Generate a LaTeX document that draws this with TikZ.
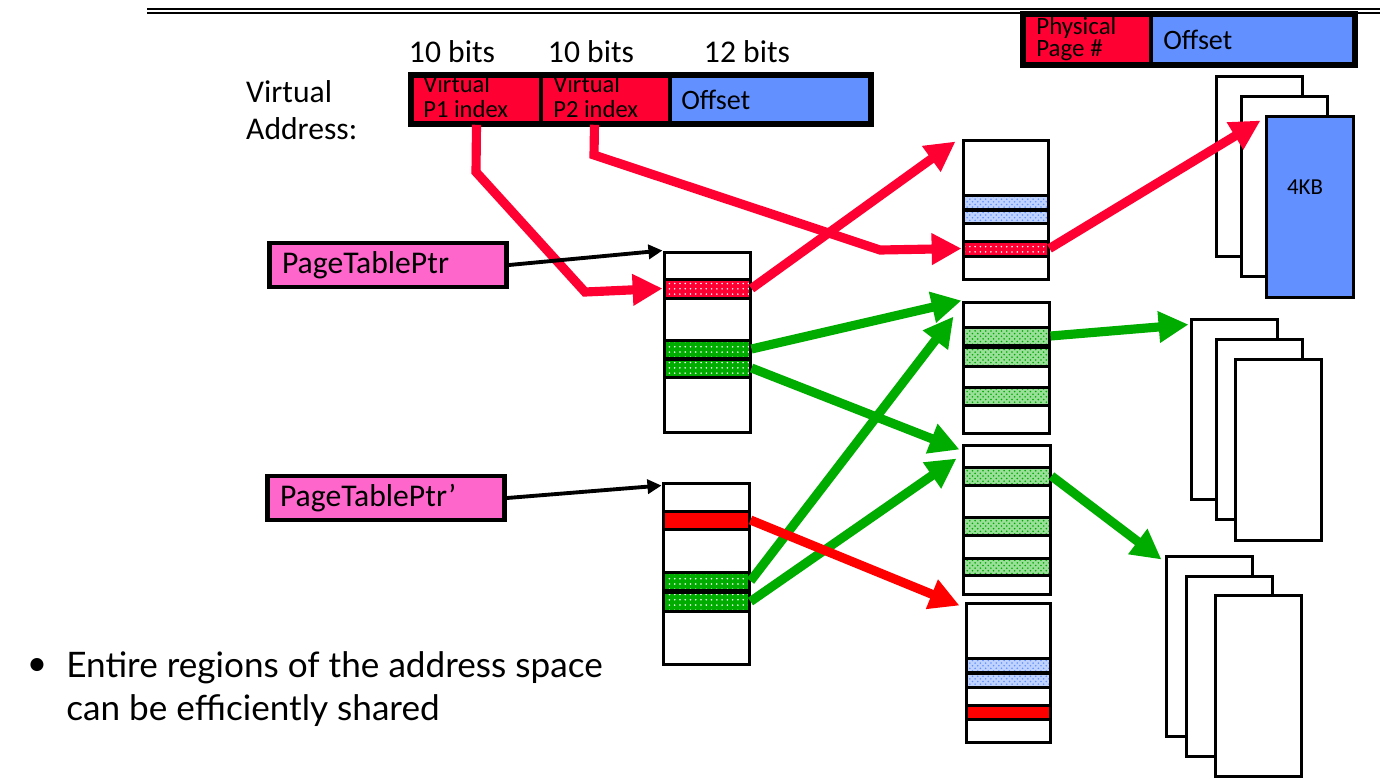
\documentclass[tikz,border=0pt]{standalone}
\usepackage{fontspec}
\setmainfont{Carlito}
\newfontfamily\gillfont{Lato}
\usetikzlibrary{arrows.meta,fit,calc,patterns}
\definecolor{vared}{RGB}{255,0,51}
\definecolor{purered}{RGB}{255,0,0}
\definecolor{vablue}{RGB}{98,145,255}
\definecolor{ptrpink}{RGB}{255,102,204}
\definecolor{ptgreen}{RGB}{0,172,0}

\begin{document}
\begin{tikzpicture}[x=0.02cm,y=-0.02cm,
  table node/.style={draw,line width=1.7pt,fill=white,inner sep=0pt},
  row node/.style={draw,line width=1.7pt,inner sep=0pt},
  page node/.style={draw,line width=1.7pt,fill=white,inner sep=0pt},
  cell node/.style={draw,line width=2pt,inner sep=0pt},
  ptr node/.style={draw,line width=2.8pt,fill=ptrpink,text width=4.24cm,inner xsep=0.25cm,
    minimum height=0.88cm,align=left,font=\fontsize{18}{20}\selectfont},
  dotred/.style={preaction={fill=vared},pattern=dots,pattern color=white},
  dotgreen/.style={preaction={fill=ptgreen},pattern=dots,pattern color=white},
  checkgreen/.style={preaction={fill=ptgreen!40},pattern=crosshatch dots,pattern color=ptgreen},
  checkblue/.style={preaction={fill=vablue!40},pattern=crosshatch dots,pattern color=vablue},
  solidred/.style={fill=purered},
  big arrow/.style={line width=5.2pt,-{Triangle[length=17pt,width=17pt]}},
  ptr arrow/.style={line width=2.2pt,-{Triangle[length=8pt,width=8pt]}},
  big font/.style={font=\fontsize{18}{21}\selectfont},
  cell font/.style={font=\fontsize{14}{14.2}\selectfont}]

  \useasboundingbox (0,0) rectangle (1389,779);

  % title rule
  \draw[line width=1.4pt] (147,9) -- (1380,9);
  \draw[line width=0.8pt] (147,13) -- (1380,13);

  % virtual address
  \node[big font] (bits1) at (452,52) {10 bits};
  \node[big font] (bits2) at (591,52) {10 bits};
  \node[big font] (bits3) at (747,52) {12 bits};
  \node[big font,anchor=west,align=left] (valbl) at (240,110) {Virtual\\Address:};

  \node[cell node,fill=vared,fit={(412,76) (541,123)}] (va1) {};
  \node[cell node,fill=vared,fit={(541,76) (670,123)}] (va2) {};
  \node[cell node,fill=vablue,fit={(670,76) (870,123)}] (va3) {};
  \node[cell font,anchor=west,align=left,inner sep=0pt] (va1txt) at (423,97) {Virtual\\P1 index};
  \node[cell font,anchor=west,align=left,inner sep=0pt] (va2txt) at (553,97) {Virtual\\P2 index};
  \node[font=\fontsize{16}{18}\selectfont,anchor=west,inner sep=0pt] (va3txt) at (681,100) {Offset};
  \draw[line width=2.6pt] (va1.north west) rectangle (va3.south east);

  % physical address
  \node[cell node,fill=vared,fit={(1024,15) (1151,64)}] (pa1) {};
  \node[cell node,fill=vablue,fit={(1151,15) (1354,64)}] (pa2) {};
  \node[font=\fontsize{14.2}{11.5}\selectfont,anchor=west,align=left,inner sep=0pt] (pa1txt) at (1036,39) {Physical\\Page \#};
  \node[font=\fontsize{16}{18}\selectfont,anchor=west,inner sep=0pt] (pa2txt) at (1163,40) {Offset};
  \draw[line width=2.6pt] (pa1.north west) rectangle (pa2.south east);

  % page table pointers
  \node[ptr node] (ptr1) at (388,265) {PageTablePtr};
  \node[ptr node] (ptr2) at (386,498) {PageTablePtr'};

  % first level tables
  \node[table node,fit={(664,252) (750,432)}] (t1) {};
  \node[row node,dotred,fit={(664,279) (750,298)}] (r1red) {};
  \node[row node,dotgreen,fit={(664,340) (750,358)}] (g1a) {};
  \node[row node,dotgreen,fit={(664,359) (750,377)}] (g1b) {};

  \node[table node,fit={(663,483) (749,664)}] (t2) {};
  \node[row node,solidred,fit={(663,511) (749,529)}] (r2red) {};
  \node[row node,dotgreen,fit={(663,572) (749,590)}] (g2a) {};
  \node[row node,dotgreen,fit={(663,592) (749,611)}] (g2b) {};

  % second level tables
  \node[table node,fit={(963,140) (1048,279)}] (tA) {};
  \node[row node,checkblue,fit={(963,195) (1048,209)}] (bA1) {};
  \node[row node,checkblue,fit={(963,210) (1048,223)}] (bA2) {};
  \node[row node,dotred,fit={(963,241) (1048,256)}] (rAred) {};

  \node[table node,fit={(963,302) (1049,433)}] (tB) {};
  \node[row node,checkgreen,fit={(963,327) (1049,345)}] (gB1) {};
  \node[row node,checkgreen,fit={(963,347) (1049,366)}] (gB2) {};
  \node[row node,checkgreen,fit={(963,387) (1049,405)}] (gB3) {};

  \node[table node,fit={(963,445) (1050,594)}] (tC) {};
  \node[row node,checkgreen,fit={(963,467) (1050,485)}] (gC1) {};
  \node[row node,checkgreen,fit={(963,517) (1050,535)}] (gC2) {};
  \node[row node,checkgreen,fit={(963,558) (1050,575)}] (gC3) {};

  \node[table node,fit={(966,603) (1050,742)}] (tD) {};
  \node[row node,checkblue,fit={(966,658) (1050,672)}] (bD1) {};
  \node[row node,checkblue,fit={(966,673) (1050,687)}] (bD2) {};
  \node[row node,solidred,fit={(966,705) (1050,719)}] (rDred) {};

  % pages
  \node[page node,fit={(1216,76) (1302,256)}] (pg11) {};
  \node[page node,fit={(1241,96) (1327,276)}] (pg12) {};
  \node[page node,fill=vablue,fit={(1266,116) (1353,297)}] (pg13) {};
  \node[font=\fontsize{13}{15}\selectfont] (kb) at (1305,187) {4KB};

  \node[page node,fit={(1191,319) (1277,499)}] (pg21) {};
  \node[page node,fit={(1216,339) (1302,519)}] (pg22) {};
  \node[page node,fit={(1235,359) (1321,540)}] (pg23) {};

  \node[page node,fit={(1166,556) (1252,736)}] (pg31) {};
  \node[page node,fit={(1186,576) (1272,756)}] (pg32) {};
  \node[page node,fit={(1215,595) (1301,776)}] (pg33) {};

  % bullet
  \node[font=\gillfont\fontsize{20}{24}\selectfont] (bul) at (37,667) {\textbullet};
  \node[font=\gillfont\fontsize{20}{24.4}\selectfont,anchor=west,align=left,inner sep=0pt] (txt) at (66,689)
    {Entire regions of the address space\\can be efficiently shared};

  % green arrows
  \draw[big arrow,ptgreen] (g1a.east) -- (tB.north west);
  \draw[big arrow,ptgreen] (g1b.east) -- ($(tC.north west)+(-2,6)$);
  \draw[big arrow,ptgreen] (g2a.east) -- ($(tB.north west)+(-8,16)$);
  \draw[big arrow,ptgreen] (g2b.east) -- ($(tC.north west)+(-5,15)$);
  \draw[big arrow,ptgreen] (gB1.east) -- ($(pg21.north west)+(-1,7)$);
  \draw[big arrow,ptgreen] (gC1.east) -- ($(pg31.north west)+(-3,5)$);

  % red arrows
  \draw[big arrow,vared] (va1.south) -- (476,172) -- (585,292) -- (r1red.west);
  \draw[big arrow,vared] ($(va2.south)+(-11,0)$) -- (594,155) -- (880,250) -- (rAred.west);
  \draw[big arrow,vared] (r1red.east) -- ($(tA.north west)+(-6,3)$);
  \draw[big arrow,vared] (rAred.east) -- ($(pg13.north west)+(-4,6)$);
  \draw[big arrow,purered] (r2red.east) -- ($(tD.north west)+(-5,4)$);

  % pointer arrows
  \draw[ptr arrow] (ptr1.east) -- (t1.north west);
  \draw[ptr arrow] (ptr2.east) -- ($(t2.north west)+(0,4)$);
\end{tikzpicture}
\end{document}
